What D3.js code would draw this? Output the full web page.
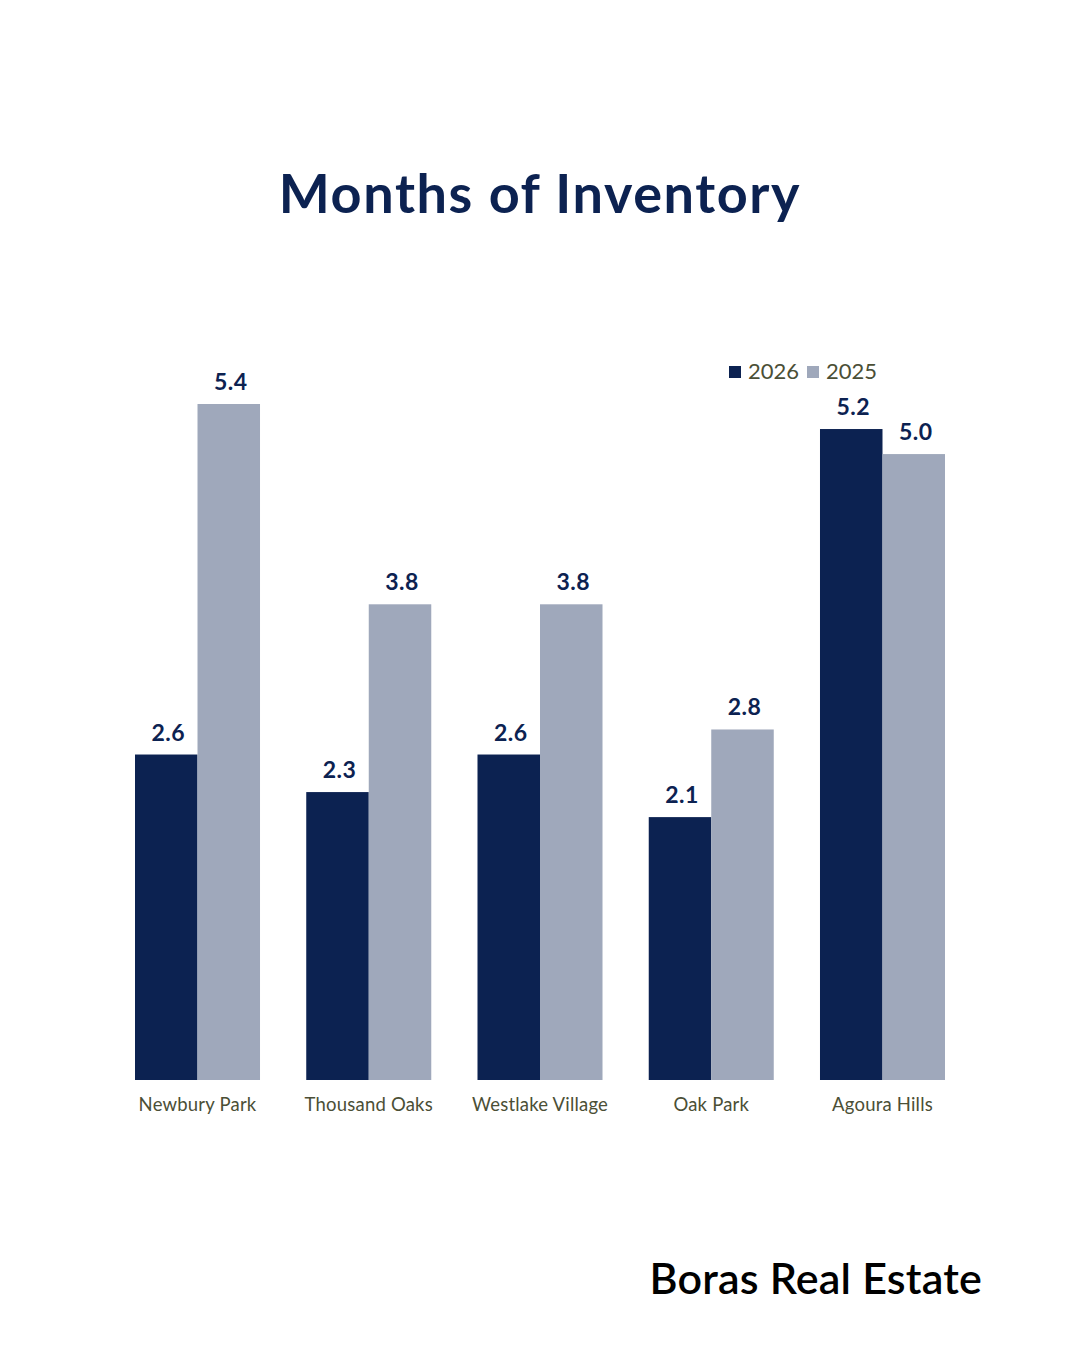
<!DOCTYPE html>
<html>
<head>
<meta charset="utf-8">
<script src="https://cdn.jsdelivr.net/npm/d3@7"></script>
<style>
  html, body { margin: 0; padding: 0; background: #ffffff; }
  svg { display: block; }
</style>
</head>
<body>
<div id="chart"></div>
<script>
// Data
const categories = ["Newbury Park", "Thousand Oaks", "Westlake Village", "Oak Park", "Agoura Hills"];
const seriesNames = ["2026", "2025"];
const values2026 = [2.6, 2.3, 2.6, 2.1, 5.2];
const values2025 = [5.4, 3.8, 3.8, 2.8, 5.0];

const W = 1080, H = 1350;
const navy = "#0c2251";
const grey = "#9fa8bb";
const olive = "#4b4f36";
const font = "Lato, 'Open Sans', sans-serif";

const svg = d3.select("#chart").append("svg")
  .attr("width", W)
  .attr("height", H);

// Scales
const x = d3.scaleBand()
  .domain(categories)
  .range([135, 945])
  .paddingInner(0.27)
  .paddingOuter(0);

const xSub = d3.scaleBand()
  .domain(seriesNames)
  .range([0, x.bandwidth()])
  .padding(0);

const y = d3.scaleLinear()
  .domain([0, 5.4])
  .range([1080, 404]);

const color = d3.scaleOrdinal().domain(seriesNames).range([navy, grey]);

const rows = categories.map((c, i) => ({
  category: c,
  values: [
    { key: "2026", value: values2026[i] },
    { key: "2025", value: values2025[i] }
  ]
}));

// Title
svg.append("text")
  .attr("x", W / 2)
  .attr("y", 213)
  .attr("text-anchor", "middle")
  .attr("font-family", font)
  .attr("font-weight", "700")
  .attr("font-size", "54px")
  .attr("letter-spacing", "1.6px")
  .attr("fill", navy)
  .text("Months of Inventory");

// Bars
const groups = svg.selectAll(".group")
  .data(rows)
  .enter()
  .append("g")
  .attr("class", "group")
  .attr("transform", d => `translate(${x(d.category)},0)`);

groups.selectAll("rect")
  .data(d => d.values)
  .enter()
  .append("rect")
  .attr("x", d => xSub(d.key))
  .attr("y", d => y(d.value))
  .attr("width", xSub.bandwidth())
  .attr("height", d => y(0) - y(d.value))
  .attr("fill", d => color(d.key));

// Value labels
groups.selectAll(".val")
  .data(d => d.values)
  .enter()
  .append("text")
  .attr("class", "val")
  .attr("x", d => xSub(d.key) + xSub.bandwidth() / 2 + 2)
  .attr("y", d => y(d.value) - 14)
  .attr("text-anchor", "middle")
  .attr("font-family", font)
  .attr("font-weight", "700")
  .attr("font-size", "23px")
  .attr("letter-spacing", "0.5px")
  .attr("fill", navy)
  .text(d => d.value.toFixed(1));

// X axis labels
const xAxis = svg.append("g")
  .attr("transform", `translate(0,${y(0)})`)
  .call(d3.axisBottom(x).tickSize(0).tickPadding(18));
xAxis.select(".domain").remove();
xAxis.selectAll("text")
  .attr("font-family", font)
  .attr("font-size", "18.5px")
  .attr("letter-spacing", "0.2px")
  .attr("fill", olive);

// Legend
const legend = svg.append("g")
  .attr("transform", "translate(729,366)");
const legendX = [0, 78];
seriesNames.forEach((s, i) => {
  const lg = legend.append("g").attr("transform", `translate(${legendX[i]},0)`);
  lg.append("rect")
    .attr("width", 12)
    .attr("height", 12)
    .attr("fill", color(s));
  lg.append("text")
    .attr("x", 19)
    .attr("y", 13)
    .attr("font-family", font)
    .attr("font-size", "22px")
    .attr("fill", olive)
    .text(s);
});

// Footer
svg.append("text")
  .attr("x", 982)
  .attr("y", 1294)
  .attr("text-anchor", "end")
  .attr("font-family", font)
  .attr("font-weight", "600")
  .attr("font-size", "43px")
  .attr("letter-spacing", "0.2px")
  .attr("fill", "#000000")
  .text("Boras Real Estate");
</script>
</body>
</html>
